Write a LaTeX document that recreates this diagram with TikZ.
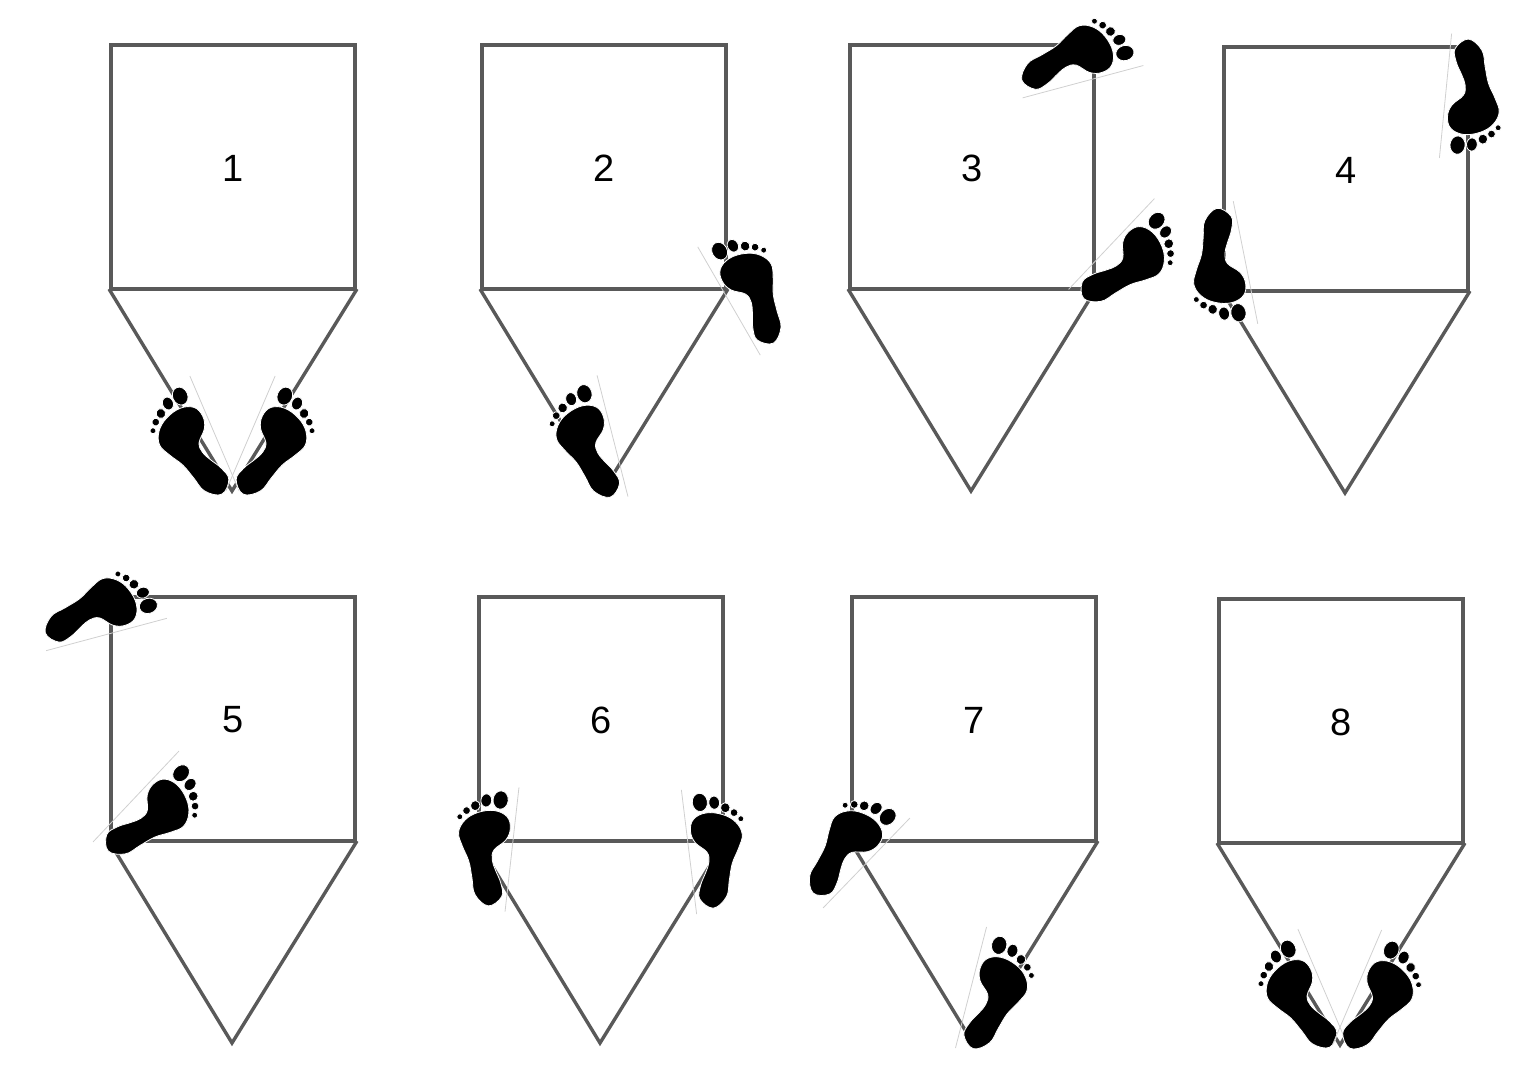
\documentclass[tikz,border=0pt]{standalone}
\usepackage{fontspec}
\setmainfont{Liberation Sans}
\definecolor{binline}{HTML}{595959}
\definecolor{footline}{HTML}{D0D0D0}
\tikzset{
	binedge/.style={draw=binline, line width=3.4pt, line join=miter},
	binlabel/.style={font=\fontsize{38}{40}\selectfont, inner sep=0pt},
	sole/.style={fill=black, draw=white, line width=0.8pt},
	foot/.pic={
		\draw[footline, line width=0.8pt] (0,-62.5) -- (0,62.5);
		\path[sole] plot[smooth cycle, tension=0.65] coordinates {
			(-17.3,-58.7) (-31.7,-49) (-36.6,-32.8) (-41.6,-16.5) (-49.7,-2.2) (-55,11)
			(-50,24) (-38,33) (-21.7,36.7) (-8.5,32) (-4,20.7) (-7.2,8.7) (-17.8,-2.4)
			(-18.5,-12.5) (-14.2,-22.2) (-7.3,-34.9) (-5,-48)};
		\path[sole] (-16.8,47.9) ellipse[x radius=7.6, y radius=9.2];
		\path[sole] (-31,45.9) ellipse[x radius=5.4, y radius=6.6];
		\path[sole] (-41.4,39.5) ellipse[x radius=4.8, y radius=5];
		\path[sole] (-49.5,33.6) ellipse[x radius=3.9, y radius=3.9];
		\path[sole] (-55.5,26.7) ellipse[x radius=3, y radius=3];
	}
}
\begin{document}
\begin{tikzpicture}[x=1pt,y=1pt]
	\useasboundingbox (0,0) rectangle (1528,1076);
	% bins: number / left / top
	\foreach \num/\bx/\by in {1/111/45, 2/482/45, 3/850/45, 4/1224/47, 5/111/597, 6/479/597, 7/852/597, 8/1219/599}
	{
		\draw[binedge] (\bx,1076-\by) rectangle (\bx+244,1076-\by-244);
		\draw[binedge] (\bx-2,1076-\by-244) -- (\bx+121,1076-\by-446) -- (\bx+246,1076-\by-244);
		\node[binlabel] (label\num) at (\bx+122,1076-\by-123) {\num};
	}
	% feet: x / y / angle
	\foreach \fx/\fy/\fr in {214.5/433.5/23.2, 612.5/436/14.3, 1083/81.7/-75, 1445.5/95.8/174.4,
		106.5/634.5/-75, 512/849.5/-6.4, 866.5/863/-44, 1322.5/986.5/23.2}
		\pic[rotate=\fr] at (\fx,1076-\fy) {foot};
	% mirrored feet
	\foreach \fx/\fy/\fr in {250.5/433.5/-23.2, 729/301/30, 1111.5/244/-43.4, 1245.5/262.5/-168.7,
		136/796.5/-43.4, 689/852/7, 971/987.5/-14.4, 1357/987.5/-23.2}
		\pic[rotate=\fr, xscale=-1] at (\fx,1076-\fy) {foot};
\end{tikzpicture}
\end{document}
